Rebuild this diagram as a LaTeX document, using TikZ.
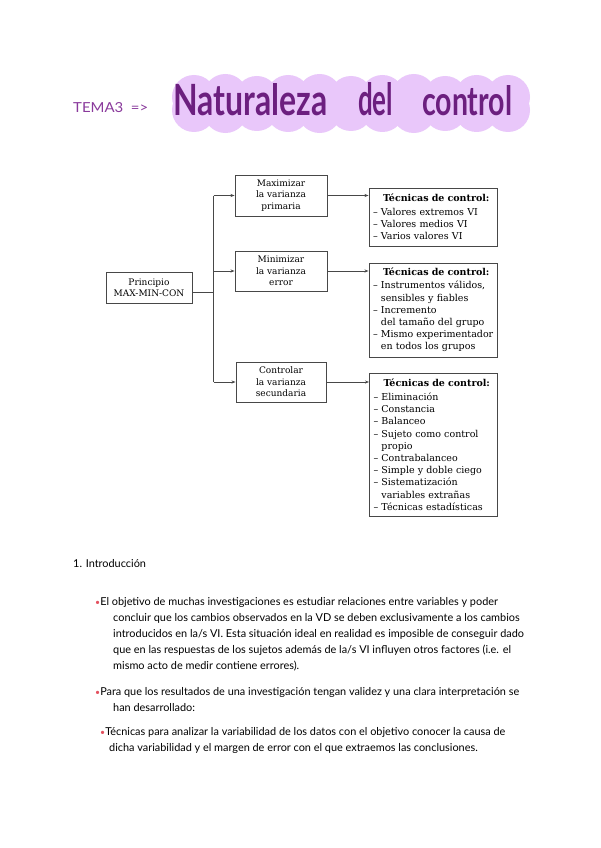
\documentclass[tikz,border=0pt]{standalone}
\usepackage{fontspec}
\setmainfont{DejaVu Serif}
\newfontfamily\bodyfont{Lato}
\newfontfamily\titlefont{Lato}
\usetikzlibrary{arrows.meta}
\definecolor{titlepurple}{HTML}{6C1F7F}
\definecolor{blobpurple}{HTML}{E9C7FA}
\definecolor{temapurple}{HTML}{8A3A9C}
\definecolor{bulletred}{HTML}{E4505E}
\definecolor{linegray}{HTML}{484848}
\newcommand{\dsh}{–\ }
\newcommand{\cont}{\phantom{–\ }}
\newcommand{\bul}{{\color{bulletred}\scalebox{0.8}{\textbullet}}}
\begin{document}
\begin{tikzpicture}[x=1pt,y=-1pt,
  lbox/.style={draw=linegray,line width=0.9pt,minimum width=92pt,minimum height=41pt,inner sep=2pt,align=center,font=\fontsize{9}{11.5}\selectfont},
  tbox/.style={draw=linegray,line width=0.9pt,text width=120pt,inner xsep=4pt,inner ysep=2pt,align=left,font=\fontsize{9.5}{12.2}\selectfont},
  line/.style={draw=linegray,line width=0.8pt},
  arr/.style={line,-{Stealth[length=4pt,width=3pt]}},
  body/.style={anchor=base west,inner sep=0pt,font=\bodyfont\fontsize{10.9}{12}\selectfont},
  ttl/.style={anchor=base west,inner sep=0pt,text=titlepurple,font=\titlefont\bfseries}
]
\useasboundingbox (0,0) rectangle (600,848);
\fill[white] (0,0) rectangle (600,848);
% title blob
\fill[blobpurple] (186,86) rectangle (516,122);
\foreach \i/\dy in {0/0,1/-1,2/1,3/0,4/-1,5/1,6/0,7/-1,8/1,9/0,10/0}{
  \fill[blobpurple] (194+31.4*\i,97+\dy) circle (22);
  \fill[blobpurple] (194+31.4*\i,110-\dy) circle (22);
}
\node[anchor=west,inner sep=0pt,text=temapurple] (tema) at (73,108) {\resizebox{75pt}{10pt}{\bodyfont TEMA3\ \ =>}};
\node[ttl] (w1) at (173,116) {\resizebox{154pt}{32pt}{Naturaleza}};
\node[ttl] (w2) at (358,116) {\resizebox{35pt}{33pt}{del}};
\node[ttl] (w3) at (422,116) {\resizebox{90pt}{30pt}{control}};
% diagram
\node[lbox,minimum width=86pt,minimum height=31pt] (pr) at (149,287.5) {Principio\\MAX-MIN-CON};
\node[lbox] (mx) at (281,195.5) {Maximizar\\la varianza\\primaria};
\node[lbox,minimum height=40pt] (mn) at (281,271) {Minimizar\\la varianza\\error};
\node[lbox,minimum width=90pt,minimum height=40pt] (ct) at (281,382) {Controlar\\la varianza\\secundaria};
\node[tbox,minimum height=58pt] (t1) at (433,217) {\hspace*{10pt}\textbf{Técnicas de control:}\\[1pt]
\dsh Valores extremos VI\\\dsh Valores medios VI\\\dsh Varios valores VI};
\node[tbox,minimum height=94pt] (t2) at (433,310) {\hspace*{10pt}\textbf{Técnicas de control:}\\[1pt]
\mbox{\dsh Instrumentos válidos,}\\\cont sensibles y fiables\\\dsh Incremento\\\mbox{\cont del tamaño del grupo}\\\mbox{\dsh Mismo experimentador}\\\cont en todos los grupos};
\node[tbox,minimum height=143pt] (t3) at (433.5,444.5) {\hspace*{10pt}\textbf{Técnicas de control:}\\[2pt]
\dsh Eliminación\\\dsh Constancia\\\dsh Balanceo\\\mbox{\dsh Sujeto como control}\\\cont propio\\\dsh Contrabalanceo\\\mbox{\dsh Simple y doble ciego}\\\dsh Sistematización\\\cont variables extrañas\\\mbox{\dsh Técnicas estadísticas}};
\coordinate (jt) at (213.5,195.5);
\coordinate (pj) at (213.5,292);
\draw[line] (jt |- mx.west) -- (jt |- ct.west);
\draw[line] (pr.east |- pj) -- (pj);
\draw[arr] (jt |- mx.west) -- (mx.west);
\draw[arr] (jt |- mn.west) -- (mn.west);
\draw[arr] (jt |- ct.west) -- (ct.west);
\draw[arr] (mx.east) -- (mx.east -| t1.west);
\draw[arr] (mn.east) -- (mn.east -| t2.west);
\draw[arr] (ct.east) -- (ct.east -| t3.west);
% body text
\node[body] (b0) at (73,567) {1. Introducción};
\node[body] (b1) at (95,605) {\bul El objetivo de muchas investigaciones es estudiar relaciones entre variables y poder};
\node[body] (b2) at (113,621) {concluir que los cambios observados en la VD se deben exclusivamente a los cambios};
\node[body] (b3) at (113,637) {introducidos en la/s VI. Esta situación ideal en realidad es imposible de conseguir dado};
\node[body] (b4) at (113,653) {que en las respuestas de los sujetos además de la/s VI influyen otros factores (i.e. el};
\node[body] (b5) at (113,669) {mismo acto de medir contiene errores).};
\node[body] (b6) at (95,695) {\bul Para que los resultados de una investigación tengan validez y una clara interpretación se};
\node[body] (b7) at (113,711) {han desarrollado:};
\node[body] (b8) at (100,735) {\bul Técnicas para analizar la variabilidad de los datos con el objetivo conocer la causa de};
\node[body] (b9) at (109,751) {dicha variabilidad y el margen de error con el que extraemos las conclusiones.};
\end{tikzpicture}
\end{document}
